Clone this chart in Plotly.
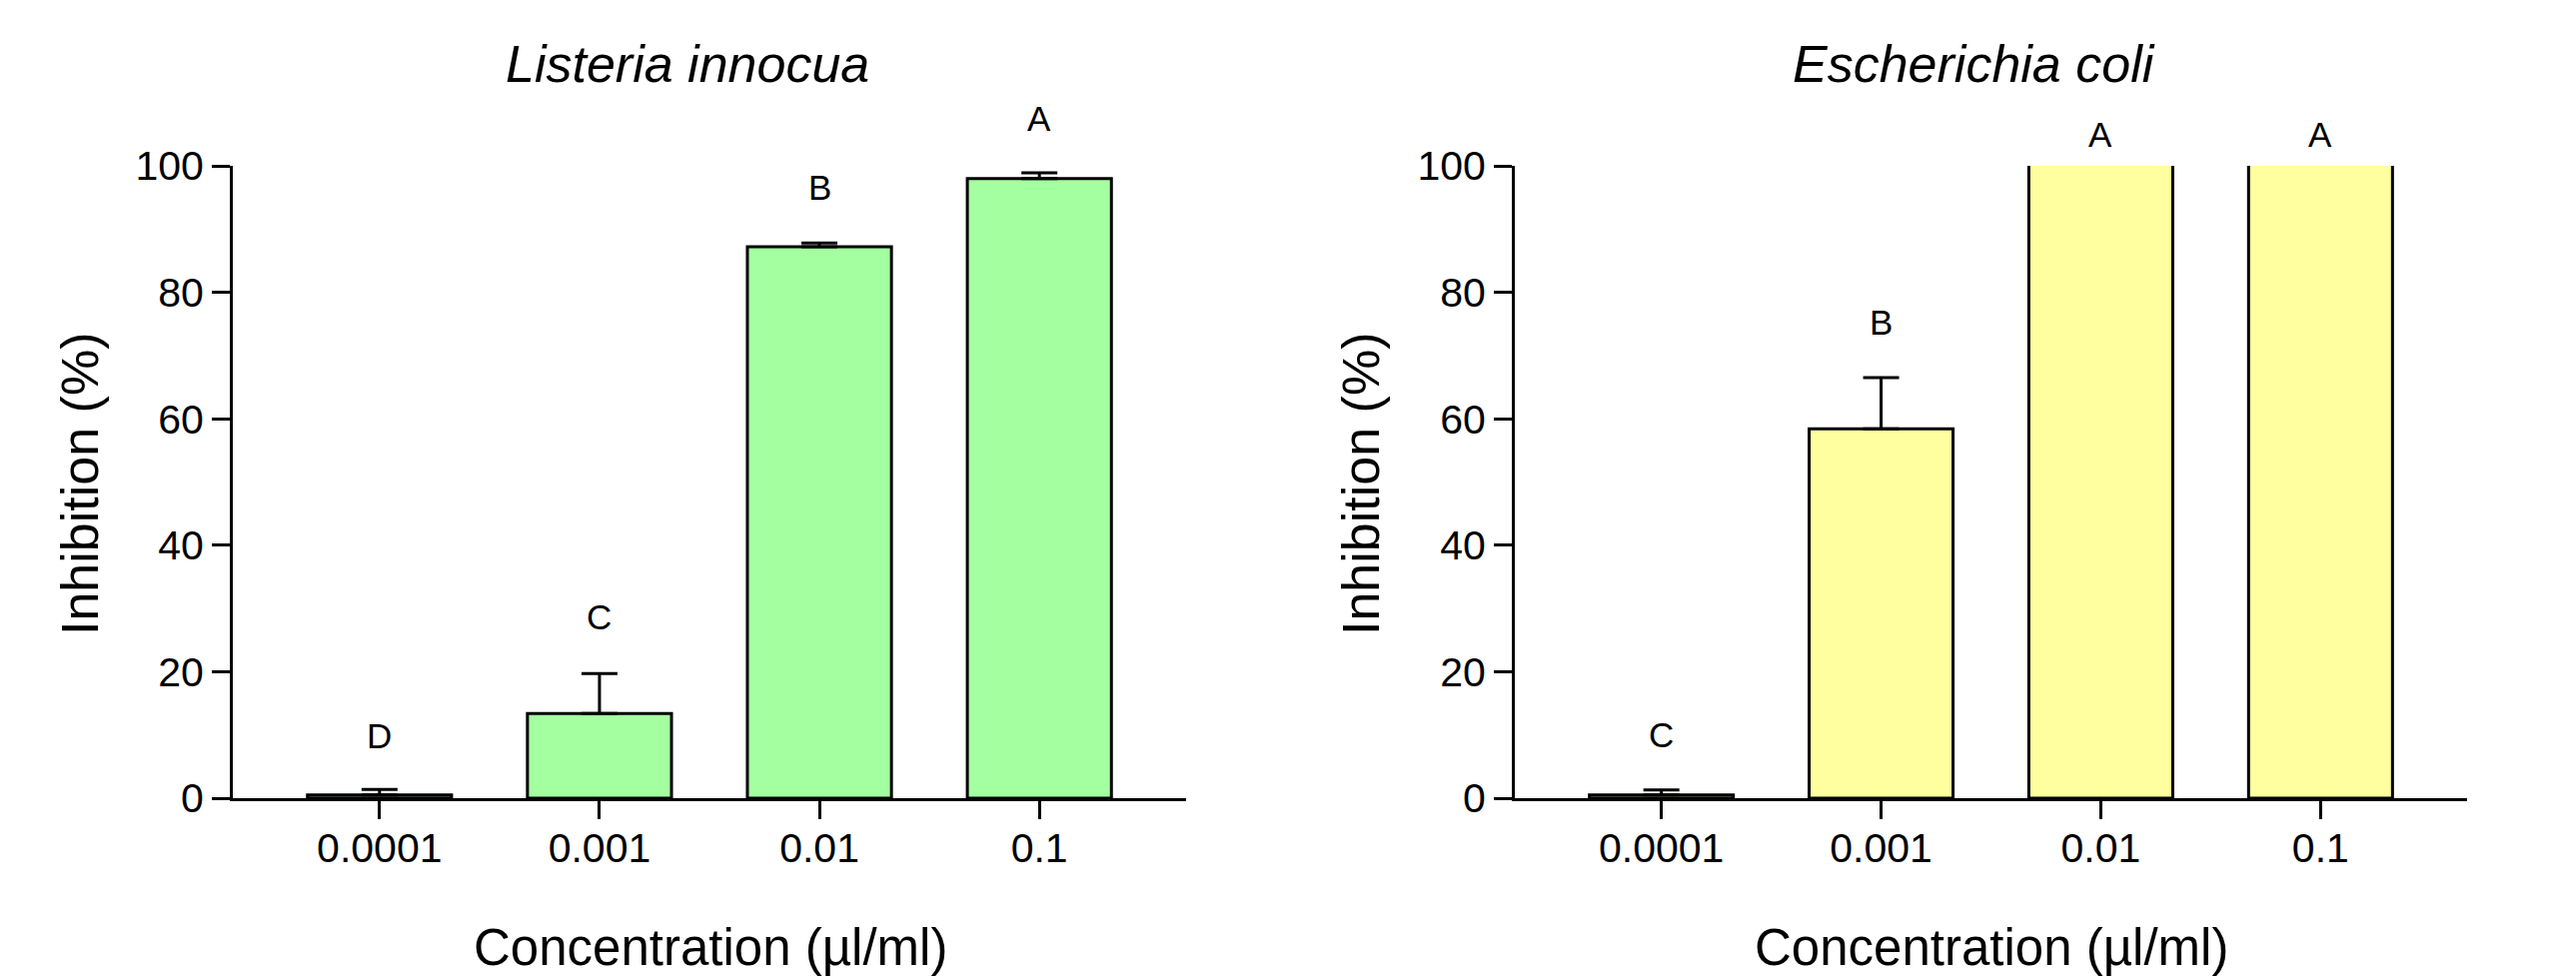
import plotly.graph_objects as go

concentrations = ["0.0001", "0.001", "0.01", "0.1"]

listeria_mean = [0.5, 13.4, 87.2, 98.0]
listeria_err = [0.9, 6.3, 0.6, 0.9]
listeria_letters = ["D", "C", "B", "A"]
listeria_letter_y = [8.2, 27.0, 94.9, 105.8]

# last two bars run past the 100 % axis limit and are clipped there
ecoli_mean = [0.5, 58.4, 101.0, 101.0]
ecoli_err = [0.8, 8.1, None, None]
ecoli_letters = ["C", "B", "A", "A"]
ecoli_letter_y = [8.4, 73.5, 103.2, 103.2]

titles = ["Listeria innocua", "Escherichia coli"]
y_title = "Inhibition (%)"
x_title = "Concentration (µl/ml)"

FONT = "Liberation Sans, Arial, sans-serif"
W, H = 2578, 979
T, B = 158, 188
PH = H - T - B
YMAX = 100
GREEN = "#A4FFA0"
YELLOW = "#FFFFA0"
LETTER_SHIFT = 1.7  # glyph-centre correction, in data units


def py(ypx):
    return (H - B - ypx) / PH


fig = go.Figure()

for mean, err, color, xa, ya in [
    (listeria_mean, listeria_err, GREEN, "x", "y"),
    (ecoli_mean, ecoli_err, YELLOW, "x2", "y2"),
]:
    fig.add_trace(go.Bar(
        x=concentrations, y=mean, xaxis=xa, yaxis=ya,
        width=0.655,
        marker=dict(color=color, line=dict(color="black", width=3)),
        error_y=dict(type="data", symmetric=False, array=err,
                     arrayminus=[0] * len(err), color="black",
                     thickness=3, width=18),
        showlegend=False,
    ))

axis_common = dict(
    showline=True, linecolor="black", linewidth=3,
    ticks="outside", ticklen=18, tickwidth=3, tickcolor="black",
    showgrid=False, zeroline=False,
    tickfont=dict(family=FONT, size=41, color="black"),
)

fig.update_layout(
    width=W, height=H,
    paper_bgcolor="white", plot_bgcolor="white",
    margin=dict(l=0, r=0, t=T, b=B),
    xaxis=dict(domain=[225 / W, 1179 / W], range=[-0.667, 3.667],
               type="category", anchor="y", ticklabelstandoff=-6, **axis_common),
    yaxis=dict(domain=[0, 1], range=[0, YMAX], dtick=20, anchor="x",
               **axis_common),
    xaxis2=dict(domain=[1508 / W, 2461 / W], range=[-0.667, 3.667],
                type="category", anchor="y2", ticklabelstandoff=-6, **axis_common),
    yaxis2=dict(domain=[0, 1], range=[0, YMAX], dtick=20, anchor="x2",
                **axis_common),
)

annotations = []
for letters, ly, xa in [
    (listeria_letters, listeria_letter_y, "x"),
    (ecoli_letters, ecoli_letter_y, "x2"),
]:
    for i, (t, yv) in enumerate(zip(letters, ly)):
        annotations.append(dict(
            x=i, y=(yv + LETTER_SHIFT) / YMAX, xref=xa, yref="paper",
            text=t, showarrow=False,
            font=dict(family=FONT, size=35, color="black"),
            xanchor="center", yanchor="middle",
        ))

# Subplot titles
for t, cx in zip(titles, [680, 1967]):
    annotations.append(dict(
        x=cx / W, y=py(56), xref="paper", yref="paper",
        text=f"<i>{t}</i>", showarrow=False,
        font=dict(family=FONT, size=52, color="black"),
        xanchor="center", yanchor="middle",
    ))

# Axis titles
for cx in [703, 1985]:
    annotations.append(dict(
        x=cx / W, y=py(940), xref="paper", yref="paper",
        text=x_title, showarrow=False,
        font=dict(family=FONT, size=51, color="black"),
        xanchor="center", yanchor="middle",
    ))
for cx in [72, 1354]:
    annotations.append(dict(
        x=cx / W, y=py(477), xref="paper", yref="paper",
        text=y_title, showarrow=False, textangle=-90,
        font=dict(family=FONT, size=52, color="black"),
        xanchor="center", yanchor="middle",
    ))

fig.update_layout(annotations=annotations)
fig.write_html("out.html")
